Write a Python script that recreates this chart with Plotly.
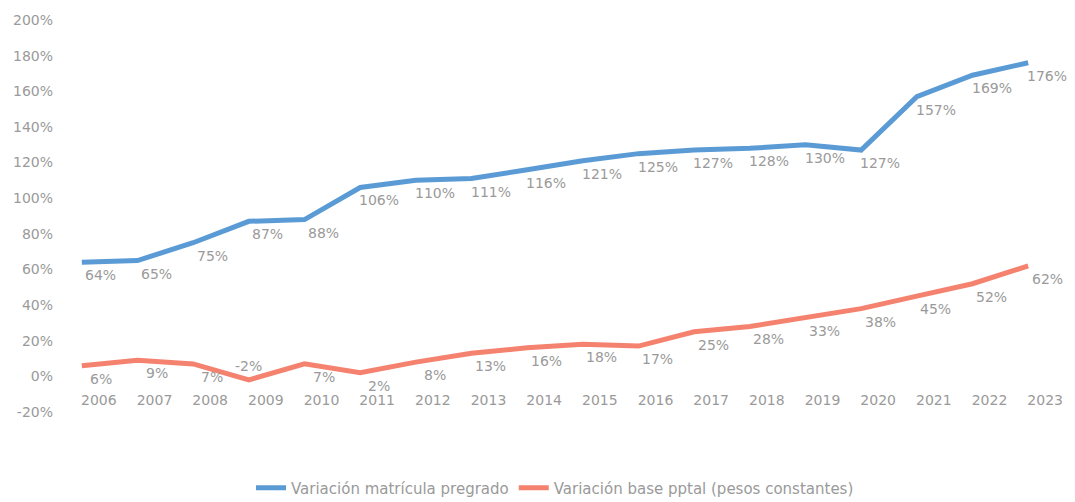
import plotly.graph_objects as go

# Años del periodo analizado
years = ["2006", "2007", "2008", "2009", "2010", "2011", "2012", "2013", "2014",
         "2015", "2016", "2017", "2018", "2019", "2020", "2021", "2022", "2023"]

# Variación acumulada de la matrícula de pregrado (%)
matricula = [64, 65, 75, 87, 88, 106, 110, 111, 116, 121, 125, 127, 128, 130, 127, 157, 169, 176]

# Variación acumulada de la base presupuestal en pesos constantes (%)
base_pptal = [6, 9, 7, -2, 7, 2, 8, 13, 16, 18, 17, 25, 28, 33, 38, 45, 52, 62]

# Marcas del eje vertical
y_ticks = [-20, 0, 20, 40, 60, 80, 100, 120, 140, 160, 180, 200]

BLUE = "#5b9bd5"
RED = "#f4826f"
GREY = "#9a9a9a"
FONT = "DejaVu Sans"

fig = go.Figure()
fig.add_trace(go.Scatter(x=years, y=matricula, mode="lines",
                         name="Variación matrícula pregrado",
                         line=dict(color=BLUE, width=5)))
fig.add_trace(go.Scatter(x=years, y=base_pptal, mode="lines",
                         name="Variación base pptal (pesos constantes)",
                         line=dict(color=RED, width=5)))

# Etiquetas de datos: debajo y algo a la derecha de cada punto;
# los valores negativos van sobre el punto para no tapar los años
for values in (matricula, base_pptal):
    for i, v in enumerate(values):
        if v < 0:
            shift_x, shift_y = 0, 14
        else:
            shift_x, shift_y = 19, -13
        fig.add_annotation(
            x=i, y=v, xref="x", yref="y", text=f"{v}%", showarrow=False,
            xanchor="center", yanchor="middle",
            xshift=shift_x, yshift=shift_y,
            font=dict(family=FONT, size=14, color=GREY),
        )

y_min, y_max = -20, 200
fig.update_layout(
    width=1075, height=502,
    margin=dict(l=54, r=19, t=20, b=90),
    paper_bgcolor="white", plot_bgcolor="white",
    font=dict(family=FONT, size=14, color=GREY),
    showlegend=True,
    legend=dict(orientation="h", x=0.5, xanchor="center",
                yref="container", y=0.028, yanchor="middle",
                itemwidth=30, font=dict(family=FONT, size=15, color=GREY)),
    xaxis=dict(
        type="category", range=[-0.5, len(years) - 0.5],
        showgrid=False, zeroline=False, showline=False, ticks="",
        anchor="free", position=(0 - y_min) / (y_max - y_min),
        ticklabelstandoff=14, ticklabelshift=17,
        tickfont=dict(family=FONT, size=14, color=GREY),
    ),
    yaxis=dict(
        range=[y_min, y_max], tickvals=y_ticks,
        ticktext=[f"{v}%" for v in y_ticks],
        showgrid=False, zeroline=False, showline=False, ticks="",
        tickfont=dict(family=FONT, size=14, color=GREY),
    ),
)

fig.write_html("out.html")
